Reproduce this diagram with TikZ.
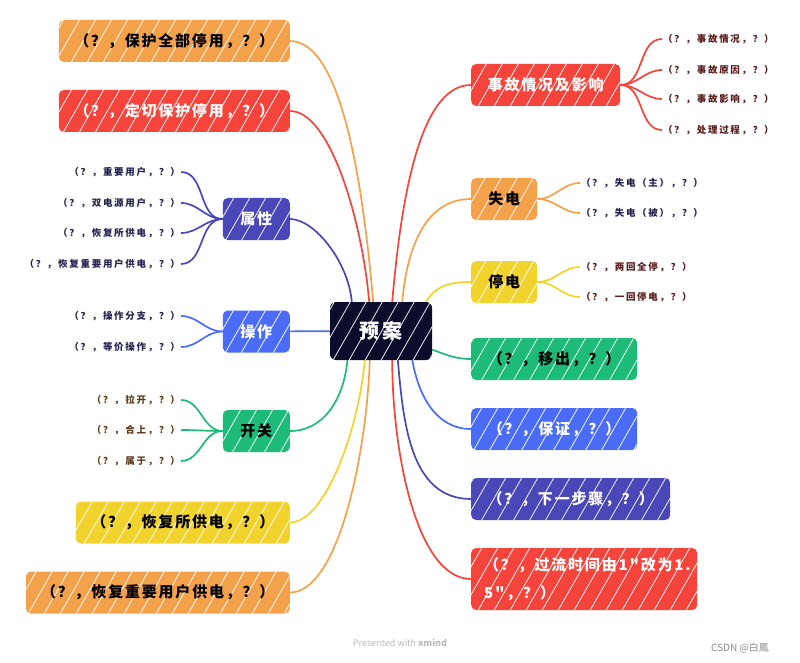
\documentclass[tikz,border=0pt]{standalone}
\usepackage{fontspec}
\setmainfont{Noto Sans CJK SC}
\newfontfamily\topicfont[LetterSpace=12]{Noto Sans CJK SC}
\newfontfamily\leaffont[LetterSpace=18]{Noto Sans CJK SC}
\usepackage{tikz}
\usetikzlibrary{positioning,backgrounds,patterns.meta}

\definecolor{xmorange}{HTML}{F4A14B}
\definecolor{xmred}{HTML}{F5443B}
\definecolor{xmindigo}{HTML}{4A47B8}
\definecolor{xmblue}{HTML}{4A6CF7}
\definecolor{xmgreen}{HTML}{1DBA78}
\definecolor{xmyellow}{HTML}{F2D22C}
\definecolor{xmdark}{HTML}{0B0B2C}
\definecolor{leafnavy}{HTML}{23234F}
\definecolor{leafbrown}{HTML}{5C3A1C}
\definecolor{leafmaroon}{HTML}{5A1C1C}

\tikzdeclarepattern{
  name=scribble,
  type=uncolored,
  bounding box={(-1pt,-1pt) and (17pt,29pt)},
  tile size={(16pt,28pt)},
  code={\draw[line width=0.7pt] (0pt,0pt) -- (16pt,28pt);}
}

\begin{document}
\begin{tikzpicture}[x=1pt, y=1pt,
  root/.style={rectangle, rounded corners=6pt, fill=xmdark, text=white,
    minimum width=102pt, minimum height=58pt,
    font=\topicfont\fontsize{20}{24}\selectfont\bfseries,
    postaction={pattern=scribble, pattern color=white, fill opacity=0.3}},
  topic/.style={rectangle, rounded corners=5pt, minimum height=42pt, inner xsep=8pt,
    font=\topicfont\fontsize{15}{22}\selectfont\bfseries,
    postaction={pattern=scribble, pattern color=white, fill opacity=0.3}},
  leaf/.style={font=\leaffont\fontsize{9.5}{11}\selectfont\bfseries, inner sep=1pt},
  branch/.style={line width=1.7pt}
]
\useasboundingbox (0,0) rectangle (800,-663);

% central topic
\node[root] (ya) at (381,-331) {预案};

% left side
\node[topic, fill=xmorange, minimum width=231pt, anchor=east] (bhqb) at (290,-41) {（？，保护全部停用，？）};
\node[topic, fill=xmred, text=white, minimum width=231pt, anchor=east] (dqbh) at (290,-111) {（？，定切保护停用，？）};
\node[topic, fill=xmindigo, text=white, minimum width=67pt, anchor=east] (sx) at (290,-219) {属性};
\node[topic, fill=xmblue, text=white, minimum width=67pt, anchor=east] (cz) at (290,-331.5) {操作};
\node[topic, fill=xmgreen, minimum width=67pt, anchor=east] (kg) at (290,-431) {开关};
\node[topic, fill=xmyellow, minimum width=214pt, anchor=east] (hfsgd) at (290,-522.5) {（？，恢复所供电，？）};
\node[topic, fill=xmorange, minimum width=264pt, anchor=east] (hfzy) at (290,-592.5) {（？，恢复重要用户供电，？）};

% right side
\node[topic, fill=xmred, text=white, minimum width=149pt, anchor=west] (sgqk) at (471,-85) {事故情况及影响};
\node[topic, fill=xmorange, minimum width=66pt, anchor=west] (sd) at (471,-199) {失电};
\node[topic, fill=xmyellow, minimum width=66pt, anchor=west] (td) at (471,-282) {停电};
\node[topic, fill=xmgreen, minimum width=166pt, anchor=west] (yc) at (471,-359) {（？，移出，？）};
\node[topic, fill=xmblue, text=white, minimum width=166pt, anchor=west] (bz) at (471,-429) {（？，保证，？）};
\node[topic, fill=xmindigo, text=white, minimum width=199pt, anchor=west] (xybz) at (471,-499) {（？，下一步骤，？）};
\node[topic, fill=xmred, text=white, minimum width=226pt, minimum height=62pt, anchor=west,
  text width=200pt, align=left, font=\topicfont\fontsize{15}{28}\selectfont\bfseries] (glsj) at (471,-579)
  {（？，过流时间由1"改为1.\\5"，？）};

% leaves of 属性
\node[leaf, text=leafnavy, anchor=east] (zyyh) at (181,-172) {（？，重要用户，？）};
\node[leaf, text=leafnavy, anchor=east] (sdy) at (181,-203) {（？，双电源用户，？）};
\node[leaf, text=leafnavy, anchor=east] (sxa) at (181,-233) {（？，恢复所供电，？）};
\node[leaf, text=leafnavy, anchor=east] (sxb) at (181,-264) {（？，恢复重要用户供电，？）};
% leaves of 操作
\node[leaf, text=leafnavy, anchor=east] (czfz) at (181,-316) {（？，操作分支，？）};
\node[leaf, text=leafnavy, anchor=east] (djcz) at (181,-347) {（？，等价操作，？）};
% leaves of 开关
\node[leaf, text=leafbrown, anchor=east] (lk) at (181,-400) {（？，拉开，？）};
\node[leaf, text=leafbrown, anchor=east] (hs) at (181,-430) {（？，合上，？）};
\node[leaf, text=leafbrown, anchor=east] (sy) at (181,-461) {（？，属于，？）};
% leaves of 事故情况及影响
\node[leaf, text=leafmaroon, anchor=west] (sga) at (662,-39) {（？，事故情况，？）};
\node[leaf, text=leafmaroon, anchor=west] (sgb) at (662,-70) {（？，事故原因，？）};
\node[leaf, text=leafmaroon, anchor=west] (sgc) at (662,-99) {（？，事故影响，？）};
\node[leaf, text=leafmaroon, anchor=west] (clgc) at (662,-130) {（？，处理过程，？）};
% leaves of 失电 / 停电
\node[leaf, text=leafnavy, anchor=west] (sdz) at (580,-183) {（？，失电（主），？）};
\node[leaf, text=leafnavy, anchor=west] (sdb) at (580,-213) {（？，失电（被），？）};
\node[leaf, text=leafmaroon, anchor=west] (lhqt) at (580,-267) {（？，两回全停，？）};
\node[leaf, text=leafmaroon, anchor=west] (yhtd) at (580,-297) {（？，一回停电，？）};

% footer
\node[text=gray!55, font=\fontsize{9}{11}\selectfont] (pw) at (400,-643) {Presented with \textbf{xmind}};
\node[text=gray!90, font=\fontsize{10}{12}\selectfont] (csdn) at (740,-648) {CSDN @白鳳};

\begin{scope}[on background layer]
% branches from the centre
\draw[branch, xmorange] (ya.105) to[out=95, in=0, in looseness=0.5] (bhqb.east);
\draw[branch, xmred] (ya.112) to[out=95, in=0, in looseness=0.5] (dqbh.east);
\draw[branch, xmindigo] (ya.135) to[out=95, in=0, in looseness=0.6] (sx.east);
\draw[branch, xmblue] (ya) -- (cz);
\draw[branch, xmgreen] (ya.221) to[out=265, in=0] (kg.east);
\draw[branch, xmyellow] (ya.241) to[out=265, in=0, in looseness=0.5] (hfsgd.east);
\draw[branch, xmorange] (ya.249) to[out=268, in=0, in looseness=0.5] (hfzy.east);
\draw[branch, xmred] (ya.69) to[out=85, in=180, in looseness=0.6] (sgqk.west);
\draw[branch, xmorange] (ya.54) to[out=85, in=180] (sd.west);
\draw[branch, xmyellow] (ya.33) to[out=60, in=180] (td.west);
\draw[branch, xmgreen] (ya.340) to[out=340, in=180] (yc.west);
\draw[branch, xmblue] (ya.317) to[out=280, in=180] (bz.west);
\draw[branch, xmindigo] (ya.300) to[out=275, in=180] (xybz.west);
\draw[branch, xmred] (ya.291) to[out=270, in=180, in looseness=0.6] (glsj.west);
% branches to the leaves
\foreach \l in {zyyh,sdy,sxa,sxb}
  \draw[branch, xmindigo] (sx.west) to[out=180, in=0] (\l.east);
\foreach \l in {czfz,djcz}
  \draw[branch, xmblue] (cz.west) to[out=180, in=0] (\l.east);
\foreach \l in {lk,hs,sy}
  \draw[branch, xmgreen] (kg.west) to[out=180, in=0] (\l.east);
\foreach \l in {sga,sgb,sgc,clgc}
  \draw[branch, xmred] (sgqk.east) to[out=0, in=180] (\l.west);
\foreach \l in {sdz,sdb}
  \draw[branch, xmorange] (sd.east) to[out=0, in=180] (\l.west);
\foreach \l in {lhqt,yhtd}
  \draw[branch, xmyellow] (td.east) to[out=0, in=180] (\l.west);
\end{scope}
\end{tikzpicture}
\end{document}
